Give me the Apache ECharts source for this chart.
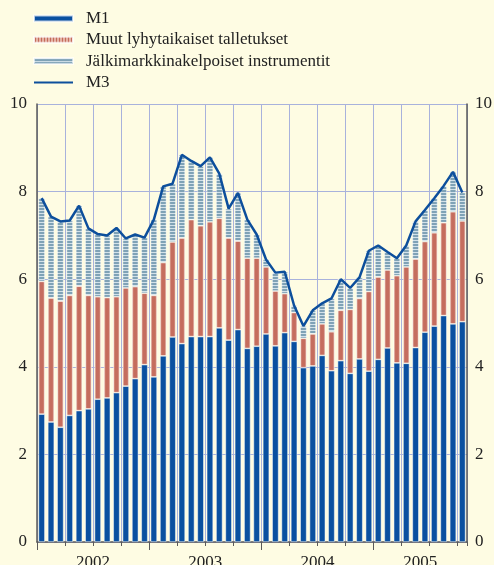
<!DOCTYPE html>
<html>
<head>
<meta charset="utf-8">
<script src="https://cdn.jsdelivr.net/npm/echarts@6/dist/echarts.min.js"></script>
<style>
html, body { margin: 0; padding: 0; background: #fefce3; }
#chart { width: 494px; height: 565px; }
</style>
</head>
<body>
<div id="chart"></div>
<script>
'use strict';
// kuukaudet 2002/1 - 2005/10
var months = [
	'2002-01', '2002-02', '2002-03', '2002-04', '2002-05', '2002-06', '2002-07', '2002-08', '2002-09', '2002-10', '2002-11', '2002-12',
	'2003-01', '2003-02', '2003-03', '2003-04', '2003-05', '2003-06', '2003-07', '2003-08', '2003-09', '2003-10', '2003-11', '2003-12',
	'2004-01', '2004-02', '2004-03', '2004-04', '2004-05', '2004-06', '2004-07', '2004-08', '2004-09', '2004-10', '2004-11', '2004-12',
	'2005-01', '2005-02', '2005-03', '2005-04', '2005-05', '2005-06', '2005-07', '2005-08', '2005-09', '2005-10'
];
var years = ['2002', '2003', '2004', '2005'];
var yTicks = [0, 2, 4, 6, 8, 10];

var m1 = [
	2.92, 2.74, 2.62, 2.89, 3.00, 3.04, 3.26, 3.29, 3.41, 3.56, 3.73, 4.05,
	3.77, 4.25, 4.68, 4.53, 4.69, 4.69, 4.69, 4.89, 4.61, 4.85, 4.42, 4.47,
	4.75, 4.48, 4.78, 4.58, 3.98, 4.02, 4.26, 3.91, 4.14, 3.85, 4.18, 3.90,
	4.17, 4.43, 4.09, 4.08, 4.44, 4.79, 4.93, 5.17, 4.98, 5.03
];
var muut = [
	3.03, 2.83, 2.88, 2.74, 2.84, 2.59, 2.34, 2.29, 2.19, 2.24, 2.10, 1.63,
	1.86, 2.13, 2.17, 2.41, 2.67, 2.53, 2.62, 2.50, 2.33, 2.02, 2.06, 2.01,
	1.53, 1.25, 0.89, 0.66, 0.67, 0.73, 0.72, 0.89, 1.15, 1.46, 1.38, 1.82,
	1.88, 1.78, 1.99, 2.20, 2.02, 2.07, 2.13, 2.12, 2.56, 2.30
];
var jalki = [
	1.90, 1.86, 1.82, 1.71, 1.84, 1.53, 1.43, 1.42, 1.57, 1.13, 1.19, 1.27,
	1.73, 1.74, 1.33, 1.90, 1.34, 1.36, 1.47, 1.02, 0.67, 1.10, 0.88, 0.54,
	0.17, 0.42, 0.50, 0.16, 0.28, 0.54, 0.47, 0.76, 0.71, 0.49, 0.48, 0.93,
	0.72, 0.41, 0.40, 0.49, 0.86, 0.72, 0.79, 0.84, 0.91, 0.65
];
var m3 = [
	7.85, 7.43, 7.32, 7.34, 7.68, 7.16, 7.03, 7.00, 7.17, 6.93, 7.02, 6.95,
	7.36, 8.12, 8.18, 8.84, 8.70, 8.58, 8.78, 8.41, 7.61, 7.97, 7.36, 7.02,
	6.45, 6.15, 6.17, 5.40, 4.93, 5.29, 5.45, 5.56, 6.00, 5.80, 6.04, 6.65,
	6.77, 6.62, 6.48, 6.77, 7.32, 7.58, 7.85, 8.13, 8.45, 7.98
];
var names = ['M1', 'Muut lyhytaikaiset talletukset', 'Jälkimarkkinakelpoiset instrumentit', 'M3'];

var font = '"Liberation Serif", "DejaVu Serif", serif';
var axisColor = '#5a5a5a';
var gridColor = '#a8b2dc';

// raidoitetut täytöt
function stripes(w, h, draw) {
	var c = document.createElement('canvas');
	c.width = w;
	c.height = h;
	draw(c.getContext('2d'));
	return c;
}
var hStripe = stripes(4, 3, function(ctx) {
	ctx.fillStyle = '#7fa2b6';
	ctx.fillRect(0, 0, 4, 3);
	ctx.fillStyle = '#d3e2ea';
	ctx.fillRect(0, 0, 4, 1);
});
var vStripe = stripes(3, 4, function(ctx) {
	ctx.fillStyle = '#e4b3a4';
	ctx.fillRect(0, 0, 3, 4);
	ctx.fillStyle = '#c46b5c';
	ctx.fillRect(1, 0, 1, 4);
});
var redFill = {
	type: 'linear', x: 0, y: 0, x2: 1, y2: 0,
	colorStops: [
		{offset: 0, color: '#e2b1a2'},
		{offset: 0.3, color: '#c56d5e'},
		{offset: 0.7, color: '#c56d5e'},
		{offset: 1, color: '#e2b1a2'}
	]
};

// vuosien alku- ja keskikohdat kuukausista
var yearStart = [];
var yearMid = {};
years.forEach(function(y) {
	var idx = [];
	months.forEach(function(m, i) { if (m.indexOf(y) === 0) idx.push(i); });
	yearStart.push(idx[0]);
	yearMid[idx[0] + idx.length / 2] = y;
});

var chart = echarts.init(document.getElementById('chart'));
var option = {
	backgroundColor: '#fefce3',
	animation: false,
	legend: {
		orient: 'vertical',
		left: 33,
		top: 10,
		padding: 0,
		itemWidth: 39,
		itemHeight: 6,
		itemGap: 4.3,
		textStyle: {fontFamily: font, fontSize: 17, color: '#222', lineHeight: 17, padding: [0, 0, 0, 8]},
		data: [
			{name: names[0], icon: 'rect'},
			{name: names[1], icon: 'rect', itemStyle: {color: {image: vStripe, repeat: 'repeat'}}},
			{name: names[2], icon: 'rect'},
			{name: names[3], itemStyle: {opacity: 0}, lineStyle: {width: 2}}
		]
	},
	grid: {left: 37, right: 27, top: 104, bottom: 23, containLabel: false, outerBoundsMode: 'none'},
	xAxis: [{
		type: 'category',
		data: months,
		boundaryGap: true,
		axisLine: {show: true, lineStyle: {color: axisColor, width: 1.5}},
		axisTick: {show: true, length: 4, interval: function(i) { return i % 3 === 0; }, lineStyle: {color: axisColor}},
		axisLabel: {show: false},
		splitLine: {show: true, interval: function(i) { return i % 3 === 0; }, lineStyle: {color: gridColor, width: 1}}
	}, {
		type: 'value',
		min: 0,
		max: months.length,
		position: 'bottom',
		axisLine: {show: false},
		axisTick: {show: true, length: 8, customValues: yearStart, lineStyle: {color: axisColor}},
		axisLabel: {
			show: true,
			customValues: Object.keys(yearMid).map(Number),
			margin: 12,
			fontFamily: font,
			fontSize: 17,
			color: '#222',
			formatter: function(v) { return yearMid[v] || ''; }
		},
		splitLine: {show: false}
	}],
	yAxis: [{
		type: 'value',
		min: yTicks[0],
		max: yTicks[yTicks.length - 1],
		interval: 2,
		axisLine: {show: true, lineStyle: {color: axisColor, width: 1.5}},
		axisTick: {show: false},
		axisLabel: {margin: 10, fontFamily: font, fontSize: 17, color: '#222'},
		splitLine: {show: true, lineStyle: {color: gridColor, width: 1}}
	}, {
		type: 'value',
		position: 'right',
		min: yTicks[0],
		max: yTicks[yTicks.length - 1],
		interval: 2,
		axisLine: {show: true, lineStyle: {color: axisColor, width: 1.5}},
		axisTick: {show: false},
		axisLabel: {margin: 8, fontFamily: font, fontSize: 17, color: '#222'},
		splitLine: {show: false}
	}],
	series: [{
		name: names[0],
		type: 'bar',
		stack: 'raha',
		barWidth: 6.5,
		data: m1,
		itemStyle: {color: '#0a50a0', borderColor: 'rgba(255,255,255,0.7)', borderWidth: 0.7}
	}, {
		name: names[1],
		type: 'bar',
		stack: 'raha',
		barWidth: 6.5,
		data: muut,
		itemStyle: {color: redFill, borderColor: 'rgba(255,255,255,0.7)', borderWidth: 0.7}
	}, {
		name: names[2],
		type: 'bar',
		stack: 'raha',
		barWidth: 6.5,
		data: jalki,
		itemStyle: {color: {image: hStripe, repeat: 'repeat'}, borderColor: 'rgba(255,255,255,0.6)', borderWidth: 0.7}
	}, {
		name: names[3],
		type: 'line',
		data: m3,
		symbol: 'none',
		lineStyle: {color: '#0d4f9c', width: 2.5},
		itemStyle: {color: '#0d4f9c'},
		z: 5
	}]
};
chart.setOption(option);
</script>
</body>
</html>
